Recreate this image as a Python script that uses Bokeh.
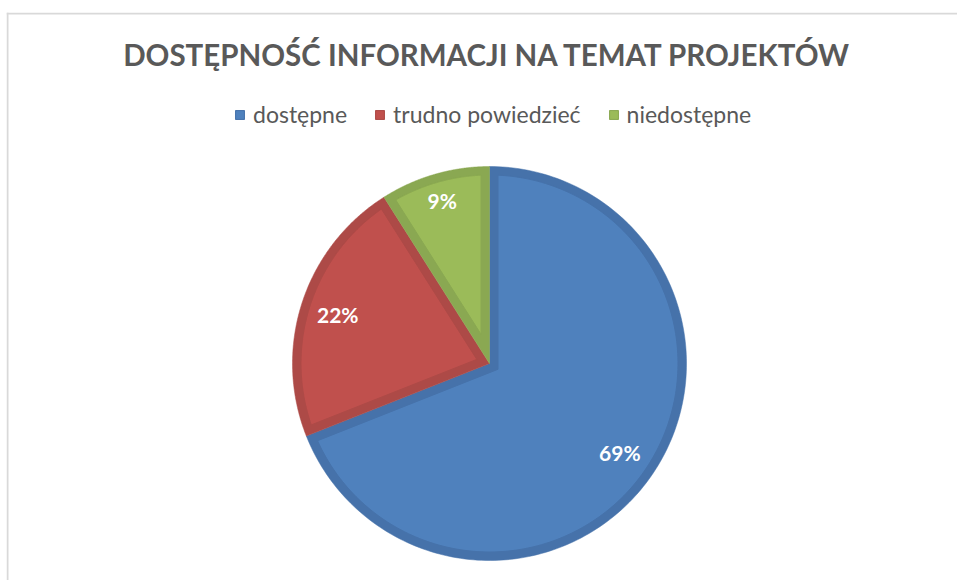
import numpy as np
from bokeh.plotting import figure
from bokeh.models import ColumnDataSource, Range1d, Label, Legend, LegendItem, Span
from bokeh.core.properties import value
from bokeh.embed import file_html
from bokeh.resources import INLINE

# ---- data ----
title_text = "DOSTĘPNOŚĆ INFORMACJI NA TEMAT PROJEKTÓW"
categories = ["dostępne", "trudno powiedzieć", "niedostępne"]
shares = [69, 22, 9]
labels = ["69%", "22%", "9%"]

# ---- styles ----
fill_colors = ["#4F81BD", "#C0504D", "#9BBB59"]
edge_colors = ["#4672AA", "#AD4A47", "#8AA852"]
label_radius_frac = [0.80, 0.81, 0.86]

W, H = 957, 580
LEFT, TOP = 6, 12
FW, FH = W - LEFT, H - TOP
cx, cy, r, band = 483, 217, 197, 8.5

p = figure(width=W, height=H, output_backend="svg", toolbar_location=None,
           x_range=Range1d(0, FW), y_range=Range1d(0, FH),
           min_border_left=LEFT, min_border_right=0, min_border_bottom=0,
           min_border_top=TOP)
p.axis.visible = False
p.grid.visible = False
p.outline_line_color = None
p.background_fill_color = "white"
p.border_fill_color = "white"

# chart-area frame (top and left edges visible as in the reference crop)
p.add_layout(Span(location=1, dimension="height", line_color="#D9D9D9", line_width=2))
p.add_layout(Span(location=FH - 1, dimension="width", line_color="#D9D9D9", line_width=2))

vals = np.array(shares, dtype=float)
frac = vals / vals.sum()
cum = np.concatenate([[0], np.cumsum(frac)])
a_start = np.pi / 2 - 2 * np.pi * cum[:-1]
a_end = np.pi / 2 - 2 * np.pi * cum[1:]

outer_xs, outer_ys, inner_xs, inner_ys, lx, ly = [], [], [], [], [], []
for a0, a1, lf in zip(a_start, a_end, label_radius_frac):
    t = np.linspace(a0, a1, 200)
    outer_xs.append(np.concatenate([[cx], cx + r * np.cos(t)]))
    outer_ys.append(np.concatenate([[cy], cy + r * np.sin(t)]))
    half = (a0 - a1) / 2
    bis = (a0 + a1) / 2
    d = band / np.sin(half)
    R = r - band
    dl = np.arcsin(band / R)
    ti = np.linspace(a0 - dl, a1 + dl, 200)
    inner_xs.append(np.concatenate([[cx + d * np.cos(bis)], cx + R * np.cos(ti)]))
    inner_ys.append(np.concatenate([[cy + d * np.sin(bis)], cy + R * np.sin(ti)]))
    lx.append(cx + lf * r * np.cos(bis))
    ly.append(cy + lf * r * np.sin(bis))

outer_src = ColumnDataSource(dict(xs=outer_xs, ys=outer_ys, c=edge_colors))
inner_src = ColumnDataSource(dict(xs=inner_xs, ys=inner_ys, c=fill_colors, lc=edge_colors))
outer_r = p.patches("xs", "ys", source=outer_src, fill_color="c", line_color="c", line_width=0.5)
inner_r = p.patches("xs", "ys", source=inner_src, fill_color="c", line_color="lc", line_width=1)

lab_src = ColumnDataSource(dict(x=lx, y=ly, t=labels))
p.text("x", "y", text="t", source=lab_src, text_color="white",
       text_font=value("Lato"), text_font_style="bold", text_font_size="21px",
       text_align="center", text_baseline="middle")

p.add_layout(Label(x=481, y=526, text=title_text, text_font="Lato",
                   text_font_style="bold", text_font_size="29.5px",
                   text_color="#595959", text_align="center",
                   text_baseline="middle"))

items = [LegendItem(label=categories[i], renderers=[outer_r, inner_r], index=i)
         for i in range(len(categories))]
legend = Legend(items=items, orientation="horizontal", location=(228, 452),
                label_text_font="Lato", label_text_font_size="23px",
                label_text_color="#595959", glyph_width=11, glyph_height=11,
                label_standoff=8, spacing=27, padding=0, margin=0,
                border_line_alpha=0, background_fill_alpha=0)
p.add_layout(legend, "center")

open("out.html", "w").write(file_html(p, INLINE))
